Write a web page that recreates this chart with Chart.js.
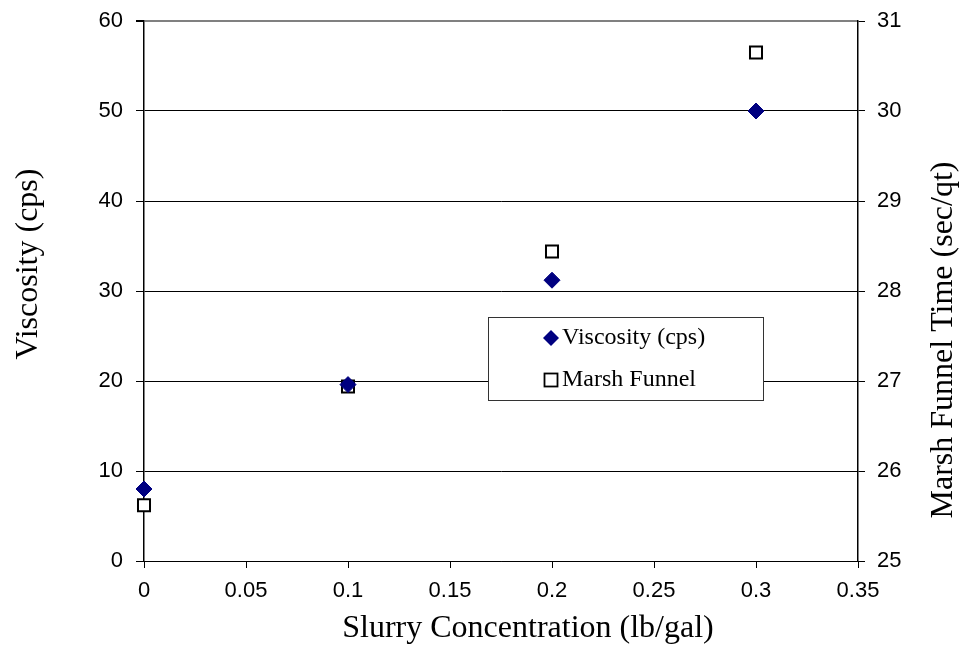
<!DOCTYPE html>
<html>
<head>
<meta charset="utf-8">
<script src="https://cdn.jsdelivr.net/npm/chart.js@4/dist/chart.umd.min.js"></script>
<style>
  html, body { margin: 0; padding: 0; background: #ffffff; }
  #wrap { width: 963px; height: 650px; position: relative; }
</style>
</head>
<body>
<div id="wrap"><canvas id="c" width="963" height="650"></canvas></div>
<script>
// ---- data ----
const concentration = [0, 0.1, 0.2, 0.3];
const viscosity = [8.0, 19.6, 31.2, 50.0];
const marshFunnel = [25.62, 26.94, 28.44, 30.65];
const seriesNames = ['Viscosity (cps)', 'Marsh Funnel'];
const xTickLabels = ['0', '0.05', '0.1', '0.15', '0.2', '0.25', '0.3', '0.35'];
const leftTickLabels = ['0', '10', '20', '30', '40', '50', '60'];
const rightTickLabels = ['25', '26', '27', '28', '29', '30', '31'];
const xTitle = 'Slurry Concentration (lb/gal)';
const leftTitle = 'Viscosity (cps)';
const rightTitle = 'Marsh Funnel Time (sec/qt)';

const tickFont = { family: "'Liberation Sans', Arial, sans-serif", size: 22 };
const serif = "'Liberation Serif', 'Times New Roman', serif";

const titlesPlugin = {
  id: 'axisTitles',
  afterDraw(chart) {
    const ctx = chart.ctx;
    ctx.save();
    ctx.fillStyle = '#000';
    ctx.font = '32px ' + serif;
    ctx.textAlign = 'center';
    ctx.textBaseline = 'middle';
    ctx.fillText(xTitle, 528, 629);
    ctx.save(); ctx.translate(29, 264); ctx.rotate(-Math.PI / 2); ctx.fillText(leftTitle, 0, 0); ctx.restore();
    ctx.save(); ctx.translate(944, 340); ctx.rotate(-Math.PI / 2); ctx.fillText(rightTitle, 0, 0); ctx.restore();
    ctx.restore();
  }
};

const legendPlugin = {
  id: 'boxLegend',
  afterDraw(chart) {
    const ctx = chart.ctx;
    const x0 = 488.5, y0 = 317.5, w = 275, h = 83;
    ctx.save();
    ctx.fillStyle = '#fff';
    ctx.fillRect(x0, y0, w, h);
    ctx.strokeStyle = '#333';
    ctx.lineWidth = 1;
    ctx.strokeRect(x0, y0, w, h);
    // diamond
    const mx = 551, my1 = 338, my2 = 380;
    ctx.fillStyle = '#000080';
    ctx.beginPath();
    ctx.moveTo(mx, my1 - 8); ctx.lineTo(mx + 8, my1); ctx.lineTo(mx, my1 + 8); ctx.lineTo(mx - 8, my1); ctx.closePath();
    ctx.fill();
    // square
    ctx.strokeStyle = '#000';
    ctx.lineWidth = 1.8;
    ctx.fillStyle = '#fff';
    ctx.fillRect(mx - 6.5, my2 - 6.5, 13, 13);
    ctx.strokeRect(mx - 6.5, my2 - 6.5, 13, 13);
    ctx.fillStyle = '#000';
    ctx.font = '24px ' + serif;
    ctx.textAlign = 'left';
    ctx.textBaseline = 'middle';
    ctx.fillText(chart.data.datasets[0].label, 562, my1);
    ctx.fillText(chart.data.datasets[1].label, 562, my2);
    ctx.restore();
  }
};

function fixVPad(s) { s.paddingTop = 8; s.paddingBottom = 8; }

new Chart(document.getElementById('c'), {
  type: 'scatter',
  data: {
    datasets: [
      {
        label: seriesNames[0],
        data: concentration.map((x, i) => ({ x: x, y: viscosity[i] })),
        yAxisID: 'y',
        pointStyle: 'rectRot',
        pointRadius: 8,
        pointHoverRadius: 8,
        backgroundColor: '#000080',
        borderColor: '#000080',
        borderWidth: 1,
        clip: false
      },
      {
        label: seriesNames[1],
        data: concentration.map((x, i) => ({ x: x, y: marshFunnel[i] })),
        yAxisID: 'y2',
        pointStyle: 'rect',
        pointRadius: 8.5,
        pointHoverRadius: 8.5,
        backgroundColor: '#ffffff',
        borderColor: '#000000',
        borderWidth: 2,
        clip: false
      }
    ]
  },
  options: {
    responsive: false,
    animation: false,
    events: [],
    layout: { padding: { top: 21, left: 0, right: 0, bottom: 0 } },
    plugins: { legend: { display: false }, tooltip: { enabled: false } },
    scales: {
      x: {
        type: 'linear',
        position: 'bottom',
        min: 0, max: 0.35,
        afterFit(s) { s.height = 89; s.paddingLeft = 0; s.paddingRight = 0; },
        afterBuildTicks(s) { s.ticks = xTickLabels.map(t => ({ value: parseFloat(t) })); },
        ticks: {
          color: '#000', font: tickFont, padding: 10, maxRotation: 0, autoSkip: false,
          callback: (v, i) => xTickLabels[i]
        },
        grid: { drawOnChartArea: false, drawTicks: true, tickLength: 7, color: '#000', tickColor: '#000' },
        border: { display: true, color: '#000', width: 1 }
      },
      y: {
        type: 'linear',
        position: 'left',
        min: 0, max: 60,
        afterFit(s) { s.width = 144; fixVPad(s); },
        afterBuildTicks(s) { s.ticks = leftTickLabels.map(t => ({ value: parseFloat(t) })); },
        ticks: { color: '#000', font: tickFont, padding: 13, callback: (v, i) => leftTickLabels[i] },
        grid: {
          drawOnChartArea: true, drawTicks: true, tickLength: 8,
          color: (c) => (c.tick && c.tick.value === 60 ? '#808080' : '#000'),
          lineWidth: (c) => (c.tick && c.tick.value === 60 ? 2 : 1),
          tickColor: '#000'
        },
        border: { display: true, color: '#000', width: 1.5 }
      },
      y2: {
        type: 'linear',
        position: 'right',
        min: 25, max: 31,
        afterFit(s) { s.width = 105; fixVPad(s); },
        afterBuildTicks(s) { s.ticks = rightTickLabels.map(t => ({ value: parseFloat(t) })); },
        ticks: { color: '#000', font: tickFont, padding: 12, callback: (v, i) => rightTickLabels[i] },
        grid: { drawOnChartArea: false, drawTicks: true, tickLength: 7, color: '#000', tickColor: '#000' },
        border: { display: true, color: '#000', width: 1.5 }
      }
    }
  },
  plugins: [titlesPlugin, legendPlugin]
});
</script>
</body>
</html>
